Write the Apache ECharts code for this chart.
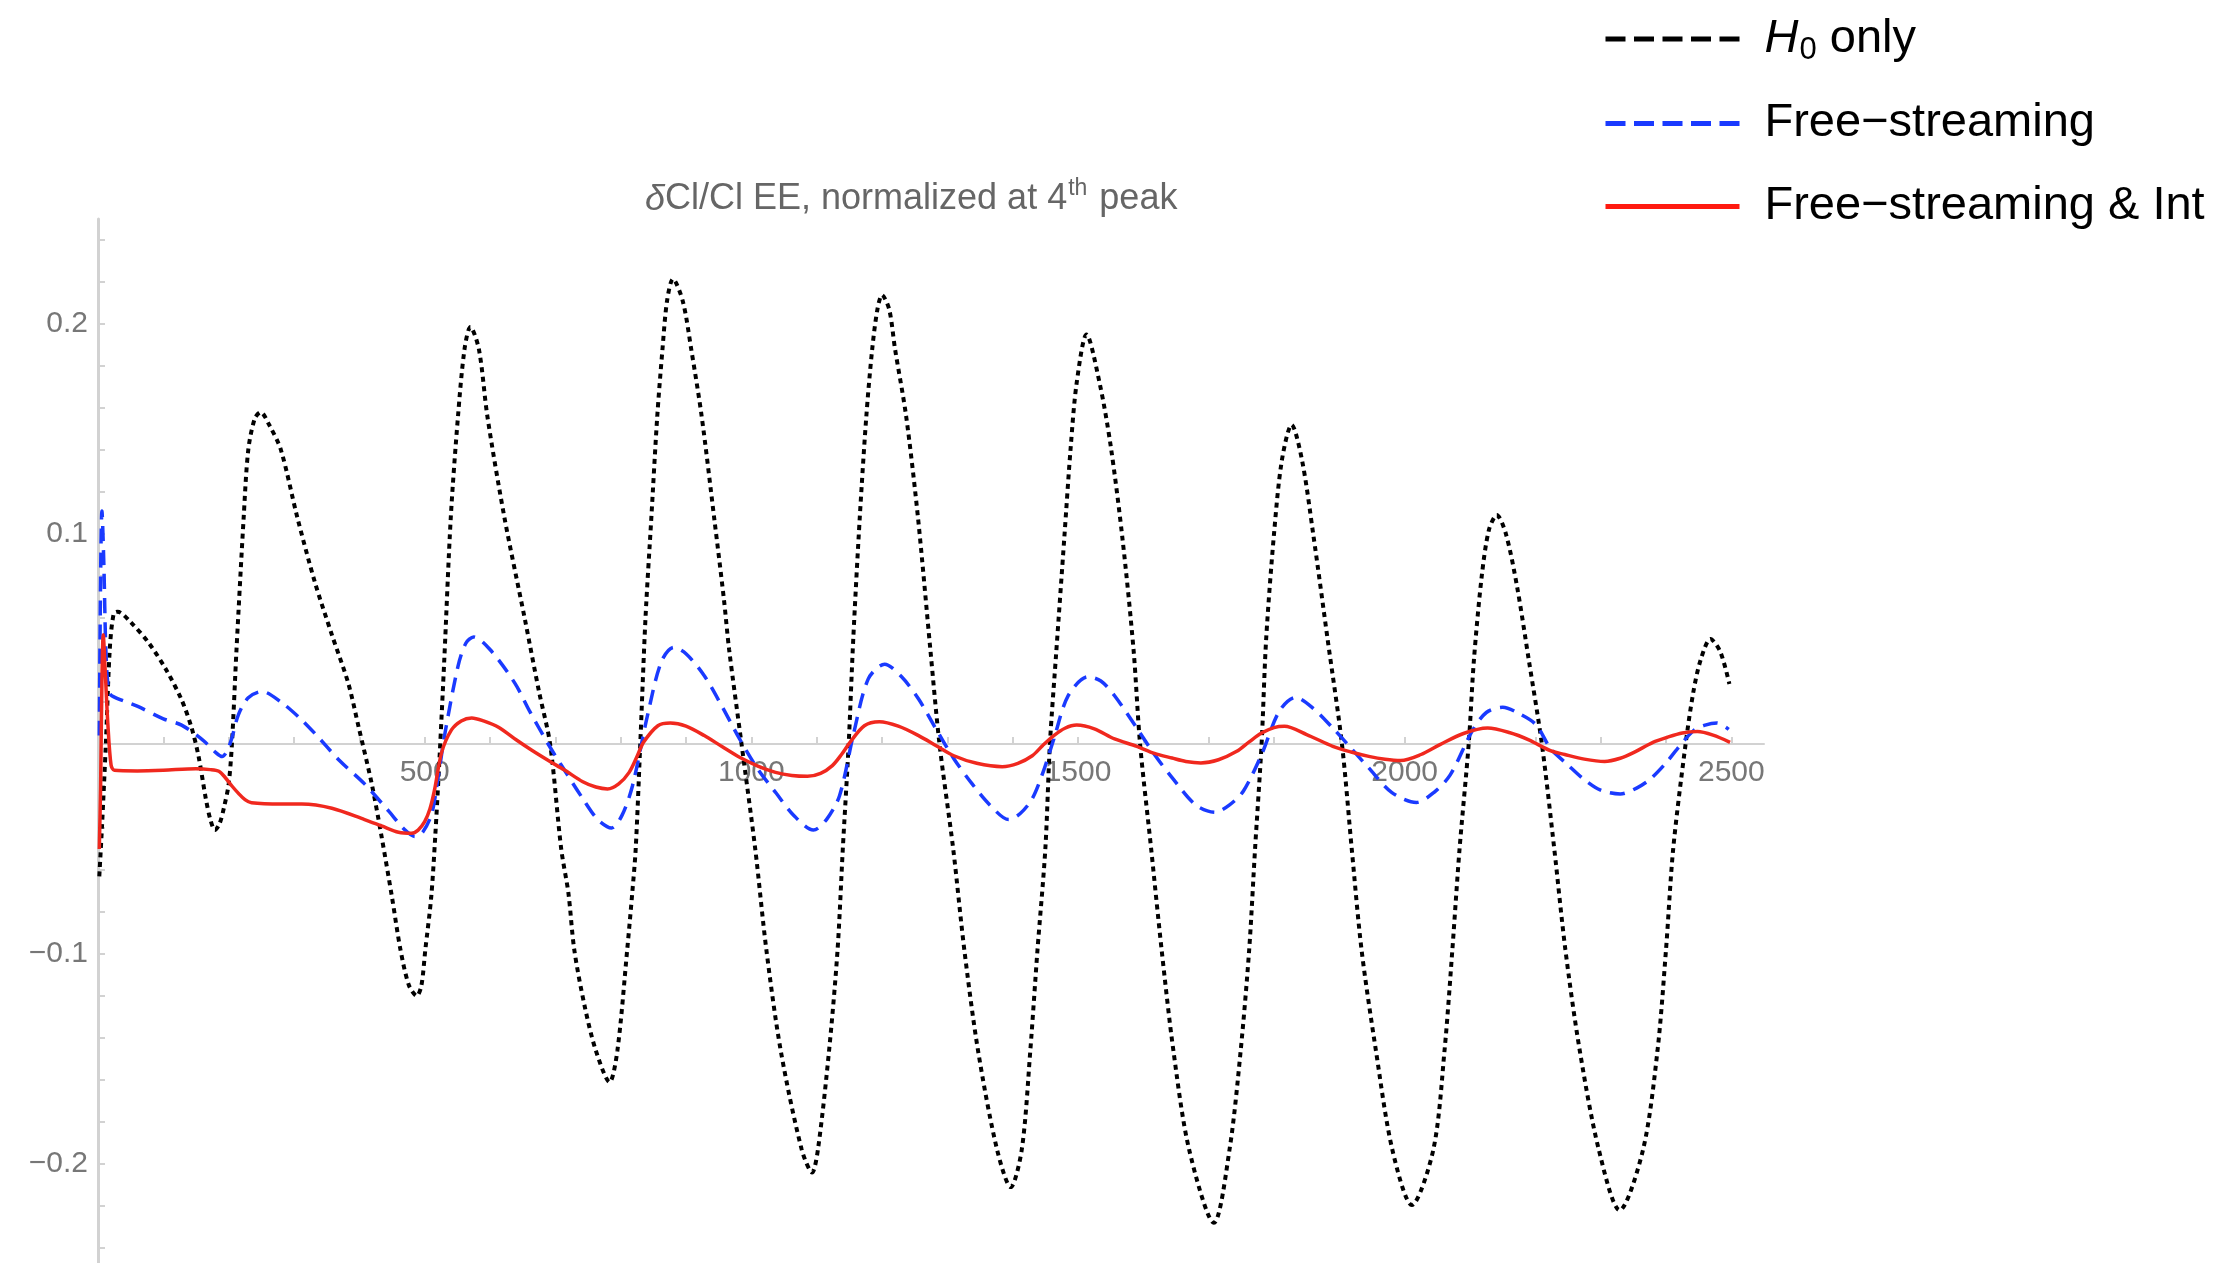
<!DOCTYPE html>
<html>
<head>
<meta charset="utf-8">
<title>δCl/Cl EE, normalized at 4th peak</title>
<script src="https://cdn.jsdelivr.net/npm/echarts@6.0.0/dist/echarts.min.js"></script>
<style>
html, body { margin: 0; padding: 0; background: #fff; }
#chart { width: 2234px; height: 1263px; }
</style>
</head>
<body>
<div id="chart"></div>
<script>
// [l, δCl/Cl] pairs
var h0Only = [
  [2,-0.063],[6,-0.04],[12,0.0],[18,0.045],[24,0.062],[30,0.063],[50,0.058],[78,0.048],[105,0.035],
  [128,0.021],[143,0.008],[154,-0.006],[165,-0.026],[172,-0.036],[179,-0.041],[186,-0.038],[193,-0.03],
  [200,-0.019],[205,0.0],[212,0.045],[223,0.108],[230,0.140],[240,0.155],[249,0.158],[262,0.152],
  [280,0.140],[305,0.108],[332,0.077],[358,0.052],[383,0.029],[399,0.008],[419,-0.019],[434,-0.044],
  [450,-0.073],[463,-0.098],[476,-0.115],[488,-0.120],[495,-0.115],[501,-0.098],[510,-0.073],
  [516,-0.045],[523,-0.005],[530,0.04],[540,0.108],[551,0.156],[561,0.188],[570,0.1986],[583,0.188],
  [596,0.156],[622,0.108],[653,0.060],[675,0.025],[692,0.0],[709,-0.050],[720,-0.071],[729,-0.098],
  [745,-0.125],[762,-0.146],[783,-0.161],[795,-0.146],[810,-0.098],[818,-0.07],[823,-0.050],[830,0.0],
  [838,0.06],[847,0.108],[856,0.156],[864,0.188],[871,0.211],[880,0.2214],[895,0.211],[908,0.188],
  [924,0.156],[943,0.108],[958,0.069],[966,0.045],[985,0.0],[1006,-0.050],[1023,-0.098],[1045,-0.146],
  [1077,-0.193],[1093,-0.204],[1102,-0.193],[1119,-0.146],[1132,-0.098],[1140,-0.050],[1149,0.0],
  [1156,0.05],[1166,0.108],[1176,0.156],[1185,0.188],[1193,0.207],[1200,0.2138],[1211,0.207],
  [1220,0.188],[1237,0.156],[1255,0.108],[1274,0.045],[1288,0.0],[1309,-0.050],[1326,-0.098],
  [1347,-0.146],[1376,-0.193],[1397,-0.211],[1414,-0.193],[1427,-0.146],[1438,-0.098],[1450,-0.050],
  [1457,0.0],[1467,0.045],[1479,0.098],[1489,0.142],[1498,0.172],[1513,0.195],[1533,0.172],
  [1550,0.142],[1568,0.098],[1585,0.045],[1595,0.0],[1612,-0.050],[1628,-0.098],[1646,-0.146],
  [1670,-0.193],[1708,-0.228],[1732,-0.193],[1749,-0.146],[1762,-0.098],[1771,-0.050],[1781,0.0],
  [1788,0.05],[1800,0.10],[1812,0.135],[1827,0.152],[1843,0.135],[1860,0.10],[1882,0.05],[1904,0.0],
  [1919,-0.050],[1934,-0.098],[1956,-0.146],[1981,-0.193],[2011,-0.2195],[2044,-0.193],[2061,-0.146],
  [2073,-0.098],[2084,-0.050],[2098,0.0],[2106,0.04],[2118,0.08],[2129,0.102],[2141,0.109],
  [2155,0.100],[2172,0.075],[2190,0.04],[2210,0.0],[2229,-0.050],[2246,-0.098],[2268,-0.146],
  [2297,-0.193],[2329,-0.222],[2365,-0.193],[2387,-0.146],[2400,-0.098],[2411,-0.050],[2430,0.0],
  [2442,0.025],[2453,0.040],[2468,0.050],[2483,0.044],[2497,0.0286]
];
var freeStreaming = [
  [2,0.004],[4,0.08],[6,0.111],[9,0.085],[12,0.045],[16,0.026],[21,0.023],[60,0.018],[100,0.012],
  [128,0.009],[160,0.002],[180,-0.004],[190,-0.006],[198,-0.003],[205,0.003],[215,0.014],[230,0.022],
  [251,0.025],[280,0.020],[310,0.012],[332,0.005],[370,-0.008],[408,-0.019],[445,-0.032],[470,-0.041],
  [485,-0.044],[497,-0.042],[511,-0.033],[521,-0.015],[531,0.005],[551,0.037],[563,0.048],[575,0.051],
  [600,0.045],[638,0.029],[660,0.016],[689,0.0],[709,-0.010],[742,-0.026],[765,-0.036],[786,-0.040],
  [802,-0.034],[818,-0.020],[841,0.0135],[862,0.039],[881,0.046],[900,0.043],[928,0.0325],[955,0.018],
  [982,0.0024],[1010,-0.012],[1037,-0.023],[1065,-0.034],[1095,-0.041],[1115,-0.036],[1135,-0.0246],
  [1157,0.0056],[1179,0.031],[1204,0.038],[1230,0.032],[1256,0.0214],[1283,0.007],[1310,-0.007],
  [1338,-0.019],[1365,-0.029],[1394,-0.036],[1412,-0.033],[1430,-0.026],[1447,-0.013],[1463,0.0024],
  [1485,0.023],[1515,0.032],[1535,0.030],[1556,0.023],[1590,0.0076],[1617,-0.005],[1644,-0.016],
  [1680,-0.029],[1710,-0.0325],[1732,-0.029],[1753,-0.0225],[1781,-0.005],[1808,0.0156],[1833,0.0222],
  [1860,0.017],[1890,0.0076],[1918,-0.002],[1945,-0.0114],[1980,-0.023],[2018,-0.0278],[2045,-0.023],
  [2070,-0.0146],[2103,0.006],[2125,0.015],[2150,0.0175],[2175,0.0145],[2201,0.0092],[2223,-0.002],
  [2250,-0.010],[2274,-0.0167],[2300,-0.022],[2330,-0.0238],[2355,-0.021],[2376,-0.0167],[2400,-0.009],
  [2417,-0.0024],[2442,0.0063],[2460,0.009],[2478,0.010],[2496,0.007]
];
var freeStreamingInt = [
  [2,-0.050],[4,-0.02],[6,0.03],[8,0.052],[11,0.035],[15,0.01],[20,-0.010],[25,-0.0125],[60,-0.0128],
  [100,-0.0125],[150,-0.0118],[172,-0.0122],[185,-0.013],[194,-0.0157],[205,-0.020],[215,-0.0235],
  [225,-0.0265],[235,-0.028],[281,-0.0286],[312,-0.0286],[358,-0.0306],[408,-0.036],[434,-0.039],
  [460,-0.042],[480,-0.0425],[490,-0.041],[500,-0.037],[508,-0.031],[515,-0.022],[526,-0.004],
  [541,0.0067],[556,0.011],[572,0.0124],[590,0.011],[613,0.008],[640,0.002],[664,-0.003],[690,-0.008],
  [714,-0.0124],[742,-0.018],[762,-0.0205],[780,-0.0214],[797,-0.019],[813,-0.0135],[825,-0.006],
  [835,0.0008],[857,0.0087],[876,0.010],[900,0.0085],[928,0.004],[955,-0.0012],[982,-0.0063],
  [1010,-0.0105],[1037,-0.0135],[1062,-0.015],[1086,-0.0154],[1106,-0.014],[1124,-0.0103],
  [1138,-0.005],[1151,0.0008],[1173,0.0087],[1196,0.0106],[1225,0.0085],[1256,0.004],[1283,-0.0008],
  [1310,-0.0056],[1345,-0.0092],[1384,-0.0108],[1408,-0.0092],[1430,-0.0056],[1446,-0.0007],
  [1463,0.004],[1480,0.0075],[1498,0.009],[1525,0.0072],[1556,0.0024],[1590,-0.0011],[1617,-0.0045],
  [1644,-0.0067],[1665,-0.0083],[1688,-0.009],[1715,-0.0075],[1743,-0.0035],[1762,0.001],[1781,0.0052],
  [1800,0.0078],[1816,0.0084],[1850,0.0045],[1890,-0.0011],[1918,-0.0038],[1945,-0.0059],
  [1970,-0.0073],[1994,-0.0079],[2025,-0.005],[2054,-0.0003],[2090,0.005],[2127,0.0076],[2160,0.0055],
  [2190,0.002],[2223,-0.0032],[2245,-0.005],[2275,-0.0072],[2306,-0.0083],[2330,-0.0068],
  [2351,-0.004],[2380,0.0008],[2402,0.0032],[2425,0.0052],[2448,0.0059],[2472,0.0042],[2498,0.0008]
];

var xLabelValues = [500, 1000, 1500, 2000, 2500];
var xTickValues = [100, 200, 300, 400, 500, 600, 700, 800, 900, 1000, 1100, 1200, 1300,
  1400, 1500, 1600, 1700, 1800, 1900, 2000, 2100, 2200, 2300, 2400, 2500];
var yLabelValues = [-0.2, -0.1, 0.1, 0.2];
var yTickValues = [-0.24, -0.22, -0.2, -0.18, -0.16, -0.14, -0.12, -0.1, -0.08, -0.06, -0.04, -0.02,
  0.02, 0.04, 0.06, 0.08, 0.1, 0.12, 0.14, 0.16, 0.18, 0.2, 0.22, 0.24];

var FONT = '"Liberation Sans", Arial, Helvetica, sans-serif';
var axisGray = '#d2d2d2';
var labelGray = '#777777';

// plot box: y from -0.25 (bottom) to 0.25 (top), 2100 px per unit
var GRID_TOP = 219;
var GRID_HEIGHT = 1050;

var chart = echarts.init(document.getElementById('chart'));

var option = {
  animation: false,
  backgroundColor: '#ffffff',
  title: {
    left: 640,
    top: 172,
    text: '{it|δ}{n|Cl/Cl EE, normalized at 4}{sup|th}{n| peak}',
    textStyle: {
      fontWeight: 'normal',
      rich: {
        it: { fontFamily: FONT, fontSize: 36, fontWeight: 'normal', fontStyle: 'italic', color: '#666' },
        n: { fontFamily: FONT, fontSize: 36, fontWeight: 'normal', color: '#666' },
        sup: { fontFamily: FONT, fontSize: 23, fontWeight: 'normal', color: '#666', padding: [0, 2, 22, 1] }
      }
    }
  },
  legend: {
    orient: 'vertical',
    left: 1598,
    top: 9,
    itemWidth: 134,
    itemHeight: 4,
    itemGap: 33,
    selectedMode: false,
    itemStyle: { opacity: 0 },
    formatter: function (name) {
      if (name === 'H0 only') return '{hi|H}{sub|0}{t| only}';
      return '{t|' + name + '}';
    },
    textStyle: {
      color: '#000',
      fontFamily: FONT,
      fontSize: 47,
      lineHeight: 50,
      padding: [0, 0, 0, 20],
      rich: {
        hi: { fontFamily: FONT, fontSize: 47, fontStyle: 'italic', color: '#000' },
        sub: { fontFamily: FONT, fontSize: 31, color: '#000', padding: [22, 0, 0, 1] },
        t: { fontFamily: FONT, fontSize: 47, color: '#000' }
      }
    },
    data: [
      { name: 'H0 only', itemStyle: { opacity: 0 }, lineStyle: { color: '#000', width: 5, type: [20, 8.5] } },
      { name: 'Free\u2212streaming', itemStyle: { opacity: 0 }, lineStyle: { color: '#1a3aff', width: 5, type: [20, 8.5] } },
      { name: 'Free\u2212streaming & Int', itemStyle: { opacity: 0 }, lineStyle: { color: '#ff1a10', width: 5, type: 'solid' } }
    ]
  },
  grid: {
    left: 98,
    top: GRID_TOP,
    width: 1666,
    height: GRID_HEIGHT,
    outerBoundsMode: 'none'
  },
  xAxis: {
    type: 'value',
    min: 0,
    max: 2550,
    position: 'bottom',
    // lift the axis from the bottom of the box up to y = 0
    offset: -GRID_HEIGHT / 2,
    axisLine: { onZero: false, lineStyle: { color: axisGray, width: 2 } },
    axisTick: { inside: true, length: 7, customValues: xTickValues, lineStyle: { color: axisGray, width: 2 } },
    axisLabel: {
      customValues: xLabelValues,
      margin: 14,
      fontFamily: FONT,
      fontSize: 30,
      color: labelGray,
      formatter: function (v) { return String(v); }
    },
    splitLine: { show: false }
  },
  yAxis: {
    type: 'value',
    min: -0.25,
    max: 0.25,
    axisLine: { show: true, onZero: false, lineStyle: { color: axisGray, width: 3 } },
    axisTick: { show: true, inside: true, length: 7, customValues: yTickValues, lineStyle: { color: axisGray, width: 2 } },
    axisLabel: {
      customValues: yLabelValues,
      margin: 10,
      fontFamily: FONT,
      fontSize: 30,
      color: labelGray,
      formatter: function (v) {
        return v < 0 ? '\u2212' + Math.abs(v) : String(v);
      }
    },
    splitLine: { show: false }
  },
  series: [
    {
      name: 'H0 only',
      type: 'line',
      data: h0Only,
      showSymbol: false,
      symbol: 'none',
      smooth: 0.3,
      lineStyle: { color: '#000', width: 4, type: [5, 4.5] },
      itemStyle: { color: '#000' },
      z: 2
    },
    {
      name: 'Free\u2212streaming',
      type: 'line',
      data: freeStreaming,
      showSymbol: false,
      symbol: 'none',
      smooth: 0.3,
      lineStyle: { color: '#1a3aff', width: 3.5, type: [15, 9] },
      itemStyle: { color: '#1a3aff' },
      z: 3
    },
    {
      name: 'Free\u2212streaming & Int',
      type: 'line',
      data: freeStreamingInt,
      showSymbol: false,
      symbol: 'none',
      smooth: 0.3,
      lineStyle: { color: '#f0281e', width: 3.5 },
      itemStyle: { color: '#f0281e' },
      z: 4
    }
  ]
};

chart.setOption(option);
</script>
</body>
</html>
